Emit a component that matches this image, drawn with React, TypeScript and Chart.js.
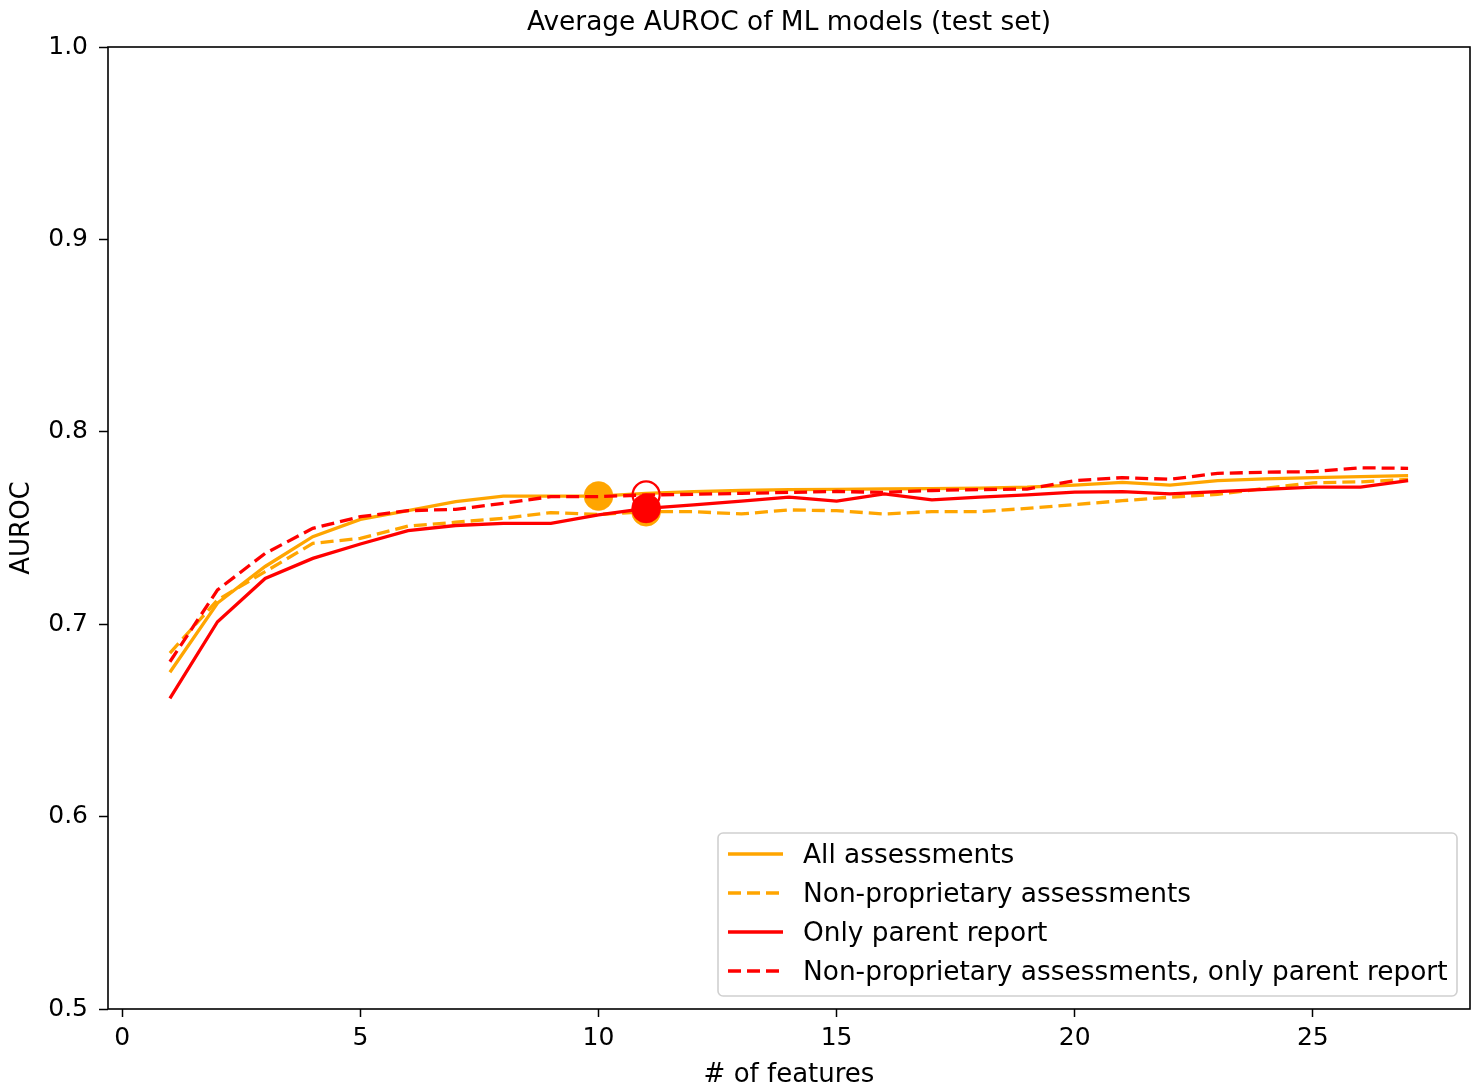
import React, { useEffect, useRef } from "react";
import { Chart, registerables } from "chart.js";

Chart.register(...registerables);

const FONT = "'DejaVu Sans', sans-serif";

const chartTitle = "Average AUROC of ML models (test set)";
const xAxisTitle = "# of features";
const yAxisTitle = "AUROC";

const featureCounts = [
  1, 2, 3, 4, 5, 6, 7, 8, 9, 10, 11, 12, 13, 14, 15, 16, 17, 18, 19, 20, 21, 22,
  23, 24, 25, 26, 27,
];

const allAssessments = [
  0.675, 0.711, 0.73, 0.7455, 0.7545, 0.759, 0.7637, 0.7666, 0.7666, 0.7666,
  0.768, 0.7689, 0.7695, 0.7699, 0.7701, 0.7703, 0.7705, 0.7707, 0.7712, 0.7723,
  0.7737, 0.7723, 0.7746, 0.7755, 0.7762, 0.7767, 0.7772,
];

const nonProprietary = [
  0.685, 0.7126, 0.7273, 0.742, 0.7446, 0.751, 0.753, 0.755, 0.758, 0.757,
  0.7585, 0.7585, 0.7573, 0.7594, 0.759, 0.7573, 0.7585, 0.7585, 0.7602, 0.7622,
  0.7642, 0.766, 0.7675, 0.7706, 0.7735, 0.774, 0.7753,
];

const parentOnly = [
  0.6615, 0.7013, 0.7238, 0.7342, 0.7417, 0.7486, 0.7513, 0.7524, 0.7524,
  0.7568, 0.7602, 0.762, 0.764, 0.766, 0.764, 0.7677, 0.7646, 0.766, 0.7672,
  0.7686, 0.7689, 0.7677, 0.7689, 0.7701, 0.7712, 0.7712, 0.7746,
];

const nonProprietaryParentOnly = [
  0.6805, 0.7178, 0.7368, 0.7498, 0.7559, 0.759, 0.7597, 0.7628, 0.7663,
  0.7663, 0.7672, 0.7675, 0.768, 0.7685, 0.769, 0.7685, 0.7695, 0.77, 0.7702,
  0.7746, 0.7762, 0.7753, 0.7784, 0.779, 0.7793, 0.7813, 0.781,
];

const seriesLabels = [
  "All assessments",
  "Non-proprietary assessments",
  "Only parent report",
  "Non-proprietary assessments, only parent report",
];
const seriesValues = [allAssessments, nonProprietary, parentOnly, nonProprietaryParentOnly];
const seriesColors = ["#FFA500", "#FFA500", "#FF0000", "#FF0000"];
const seriesDashed = [false, true, false, true];
const seriesHollowMarker = [false, false, false, true];
// number of features at which each series' optimum marker is drawn
const bestFeatureCounts = [10, 11, 11, 11];

const xTicks = [0, 5, 10, 15, 20, 25];
const yTicks = [0.5, 0.6, 0.7, 0.8, 0.9, 1.0];

const DASH = [13, 6];

const framePlugin = {
  id: "frame",
  afterDatasetsDraw(chart: any) {
    const { ctx, chartArea } = chart;
    ctx.save();
    ctx.strokeStyle = "#000";
    ctx.lineWidth = 1.6;
    ctx.strokeRect(chartArea.left, chartArea.top, chartArea.right - chartArea.left, chartArea.bottom - chartArea.top);
    ctx.restore();
  },
};

const axesTitlePlugin = {
  id: "axesTitle",
  afterDraw(chart: any) {
    const { ctx, chartArea } = chart;
    ctx.save();
    ctx.font = `26.4px ${FONT}`;
    ctx.fillStyle = "#000";
    ctx.textAlign = "center";
    ctx.textBaseline = "middle";
    ctx.fillText(chartTitle, (chartArea.left + chartArea.right) / 2, 23);
    ctx.restore();
  },
};

const legendPlugin = {
  id: "boxLegend",
  afterDraw(chart: any) {
    const { ctx, chartArea } = chart;
    const left = 718;
    const top = 833;
    const right = chartArea.right - 13;
    const bottom = chartArea.bottom - 13;
    ctx.save();
    ctx.beginPath();
    (ctx as any).roundRect(left, top, right - left, bottom - top, 5);
    ctx.fillStyle = "rgba(255,255,255,0.8)";
    ctx.fill();
    ctx.strokeStyle = "#d0d0d0";
    ctx.lineWidth = 1.6;
    ctx.stroke();
    ctx.font = `26.4px ${FONT}`;
    ctx.textBaseline = "middle";
    ctx.textAlign = "left";
    const rowGap = 39;
    seriesLabels.forEach((label, i) => {
      const y = 854 + i * rowGap;
      ctx.beginPath();
      ctx.strokeStyle = seriesColors[i];
      ctx.lineWidth = 3.3;
      ctx.setLineDash(seriesDashed[i] ? DASH : []);
      ctx.moveTo(728, y);
      ctx.lineTo(783, y);
      ctx.stroke();
      ctx.setLineDash([]);
      ctx.fillStyle = "#000";
      ctx.fillText(label, 803, y + 2);
    });
    ctx.restore();
  },
};

export default function App() {
  const ref = useRef<HTMLCanvasElement | null>(null);

  useEffect(() => {
    document.body.style.margin = "0";
    const canvas = ref.current;
    if (!canvas) return;

    const datasets = seriesLabels.map((label, i) => {
      const bestIdx = featureCounts.indexOf(bestFeatureCounts[i]);
      return {
        label,
        data: featureCounts.map((x, j) => ({ x, y: seriesValues[i][j] })),
        borderColor: seriesColors[i],
        backgroundColor: seriesColors[i],
        borderWidth: 3.3,
        borderDash: seriesDashed[i] ? DASH : [],
        fill: false,
        tension: 0,
        order: 4 - i,
        pointRadius: featureCounts.map((_, j) => (j === bestIdx ? (seriesHollowMarker[i] ? 13.5 : 14.5) : 0)),
        pointHoverRadius: 0,
        pointBackgroundColor: seriesHollowMarker[i] ? "rgba(0,0,0,0)" : seriesColors[i],
        pointBorderColor: seriesColors[i],
        pointBorderWidth: seriesHollowMarker[i] ? 2.2 : 0.5,
      };
    });

    const tickFont = { family: FONT, size: 25 };
    const labelFont = { family: FONT, size: 26 };

    const chart = new Chart(canvas, {
      type: "line",
      data: { datasets },
      options: {
        animation: false,
        responsive: false,
        devicePixelRatio: 1,
        layout: { padding: { left: 0, right: 9, top: 47, bottom: 0 } },
        plugins: {
          legend: { display: false },
          tooltip: { enabled: false },
          title: { display: false },
        },
        scales: {
          x: {
            type: "linear",
            min: -0.3,
            max: 28.3,
            afterBuildTicks: (s: any) => {
              s.ticks = xTicks.map((v) => ({ value: v }));
            },
            afterFit: (s: any) => {
              s.height = 82;
            },
            border: { display: false },
            grid: {
              drawOnChartArea: false,
              drawTicks: true,
              tickLength: 8,
              tickColor: "#000",
              tickWidth: 1.5,
            },
            ticks: {
              color: "#000",
              font: tickFont,
              padding: 6,
              maxRotation: 0,
              autoSkip: false,
              callback: (v: any) => String(v),
            },
            title: {
              display: true,
              text: xAxisTitle,
              color: "#000",
              font: labelFont,
              padding: { top: 0, bottom: 0 },
            },
          },
          y: {
            type: "linear",
            min: 0.5,
            max: 1.0,
            afterBuildTicks: (s: any) => {
              s.ticks = yTicks.map((v) => ({ value: v }));
            },
            afterFit: (s: any) => {
              s.width = 108;
            },
            border: { display: false },
            grid: {
              drawOnChartArea: false,
              drawTicks: true,
              tickLength: 9,
              tickColor: "#000",
              tickWidth: 1.5,
            },
            ticks: {
              color: "#000",
              font: tickFont,
              padding: 11,
              autoSkip: false,
              callback: (v: any) => Number(v).toFixed(1),
            },
            title: {
              display: true,
              text: yAxisTitle,
              color: "#000",
              font: labelFont,
              padding: { top: 7, bottom: 0 },
            },
          },
        },
      } as any,
      plugins: [framePlugin, axesTitlePlugin, legendPlugin],
    });

    return () => chart.destroy();
  }, []);

  return (
    <div style={{ width: 1479, height: 1091, background: "#fff" }}>
      <canvas ref={ref} width={1479} height={1091} style={{ display: "block" }} />
    </div>
  );
}
